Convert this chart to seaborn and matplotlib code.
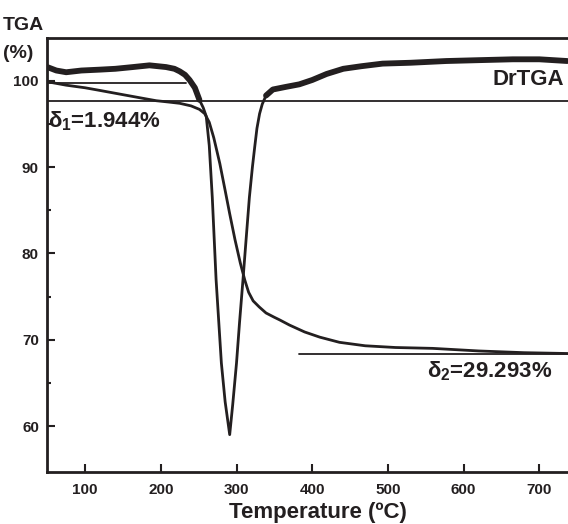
import numpy as np
import pandas as pd
import matplotlib
matplotlib.use('Agg')
import matplotlib.pyplot as plt
import seaborn as sns

# TGA curve (mass %)
tga_temp = [50, 75, 100, 119, 150, 175, 194, 210, 225, 240, 251, 258, 264, 270, 278, 285, 291,
            298, 305, 311, 316, 322, 330, 339, 350, 357, 370, 390, 410, 436, 470, 510,
            559, 620, 680, 740]
tga_mass = [99.9, 99.5, 99.2, 98.9, 98.4, 98.0, 97.7, 97.55, 97.4, 97.1, 96.7, 96.2, 95.2, 93.4,
            90.4, 87.3, 84.6, 81.6, 78.9, 76.9, 75.5, 74.5, 73.8, 73.1, 72.6, 72.3, 71.7,
            70.9, 70.3, 69.7, 69.3, 69.1, 69.0, 68.7, 68.5, 68.4]

# DrTGA curve (arbitrary scale, drawn on same axis)
dr_temp = [50, 62, 75, 95, 119, 140, 163, 185, 207, 218, 225, 232, 238, 245, 251, 256,
           260, 264, 268, 273, 280, 285, 291, 295, 300, 304, 308.5, 313, 317, 321, 324, 327,
           330.5, 334, 339, 348, 365, 383, 400, 419, 441, 465, 493, 530, 577, 620, 665, 700, 737]
dr_val = [101.6, 101.2, 101.0, 101.2, 101.3, 101.4, 101.6, 101.8, 101.6, 101.4, 101.1,
          100.7, 100.1, 99.2, 97.8, 96.9, 95.9, 92.5, 86.5, 77.0, 67.3, 62.8, 59.0, 62.5,
          67.3, 72.0, 76.9, 82.0, 86.5, 90.0, 92.3, 94.5, 96.2, 97.3, 98.3, 99.0, 99.3, 99.6,
          100.1, 100.8, 101.4, 101.7, 102.0, 102.1, 102.3, 102.4, 102.5, 102.5, 102.3]

# reference lines: (y, x start, x end)
ref_lines = [(99.8, 50, 233), (97.7, 50, 740), (68.3, 382, 740)]
delta1_text = 'δ$_{1}$=1.944%'
delta2_text = 'δ$_{2}$=29.293%'

sns.set_style('ticks')
plt.rcParams['font.family'] = ['Liberation Sans', 'DejaVu Sans']
plt.rcParams['font.weight'] = 'bold'
plt.rcParams['mathtext.fontset'] = 'custom'
plt.rcParams['mathtext.rm'] = 'Liberation Sans:bold'
plt.rcParams['mathtext.bf'] = 'Liberation Sans:bold'
plt.rcParams['mathtext.it'] = 'Liberation Sans:bold'
plt.rcParams['mathtext.default'] = 'bf'

ink = '#231f20'

fig = plt.figure(figsize=(5.68, 5.24), dpi=100)
ax = fig.add_axes([0.0832, 0.0992, 0.9196, 0.8288])

tga = pd.DataFrame({'T': tga_temp, 'm': tga_mass})
dr = pd.DataFrame({'T': dr_temp, 'v': dr_val})

for y, x0, x1 in ref_lines:
    ax.plot([x0, x1], [y, y], color=ink, lw=1.3)

sns.lineplot(data=tga, x='T', y='m', ax=ax, color=ink, lw=2.0, estimator=None, sort=False)
sns.lineplot(data=dr, x='T', y='v', ax=ax, color=ink, lw=2.0, estimator=None, sort=False)
# the noisy flat parts of the derivative look thicker
for part in [dr[dr['T'] <= 251], dr[dr['T'] >= 336]]:
    sns.lineplot(data=part, x='T', y='v', ax=ax, color=ink, lw=4.2,
                 estimator=None, sort=False, solid_joinstyle='round',
                 solid_capstyle='round')

ax.set_xlim(50, 740)
ax.set_ylim(54.67, 105)
ax.set_xticks([100, 200, 300, 400, 500, 600, 700])
ax.set_yticks([60, 70, 80, 90, 100])
ax.set_yticks([65, 75, 85, 95], minor=True)
ax.tick_params(which='major', direction='in', length=6, width=1.5, labelsize=11,
               colors=ink)
ax.tick_params(axis='x', pad=8)
ax.tick_params(axis='y', pad=6)
ax.tick_params(which='minor', axis='y', direction='in', length=3, width=1.5, colors=ink)
for lab in ax.get_xticklabels() + ax.get_yticklabels():
    lab.set_fontweight('bold')

for s in ['left', 'bottom', 'top']:
    ax.spines[s].set_linewidth(2.0)
    ax.spines[s].set_color(ink)
ax.spines['right'].set_visible(False)

ax.set_xlabel('Temperature (ºC)', fontsize=16, fontweight='bold', color=ink)
ax.xaxis.set_label_coords(0.5185, -0.068)
ax.set_ylabel('')

ax.text(51, 94.65, delta1_text, fontsize=16, fontweight='bold', color=ink,
        ha='left', va='baseline')
ax.text(552, 65.64, delta2_text, fontsize=16, fontweight='bold', color=ink,
        ha='left', va='baseline')
ax.text(733, 99.56, 'DrTGA', fontsize=16, fontweight='bold', color=ink,
        ha='right', va='baseline')

fig.text(3 / 568, 1 - 30 / 524, 'TGA', fontsize=14, fontweight='bold', color=ink,
         ha='left', va='baseline')
fig.text(3 / 568, 1 - 58 / 524, '(%)', fontsize=14, fontweight='bold', color=ink,
         ha='left', va='baseline')

fig.savefig('out.png', dpi=100)
